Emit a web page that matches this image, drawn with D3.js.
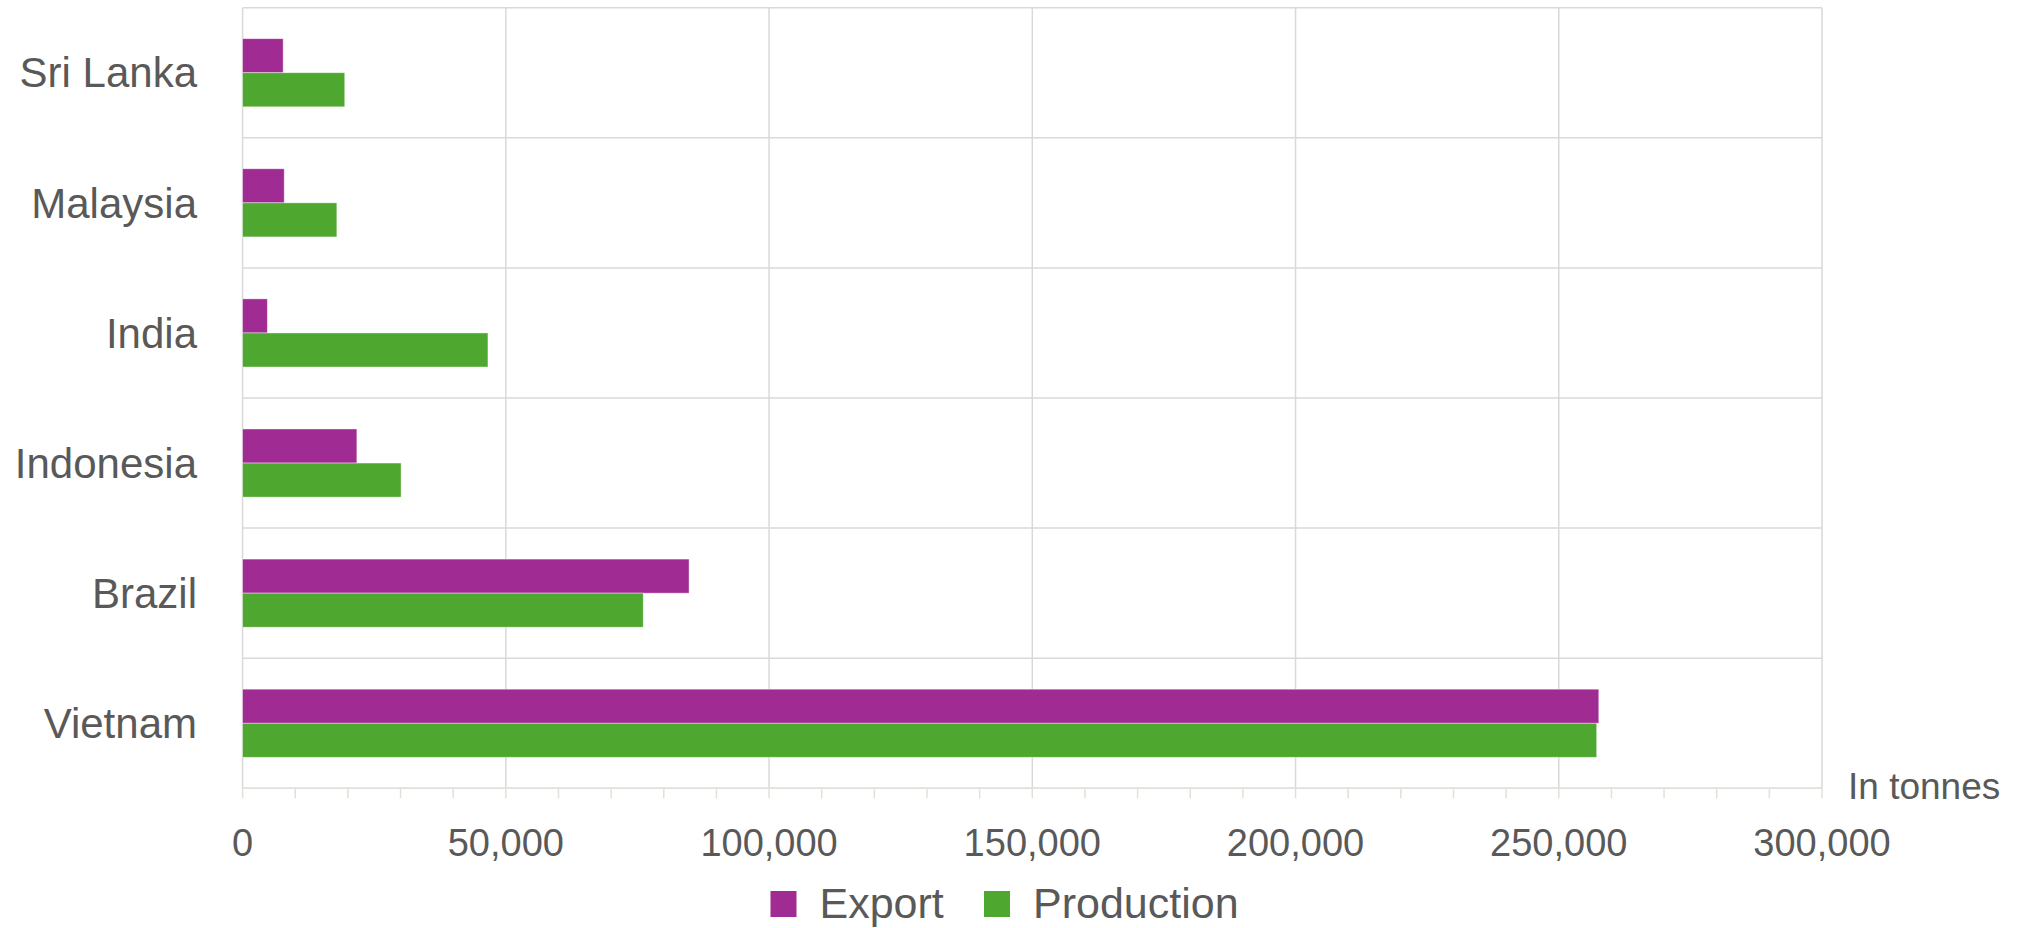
<!DOCTYPE html>
<html>
<head>
<meta charset="utf-8">
<script src="https://cdn.jsdelivr.net/npm/d3@7"></script>
<style>
  html, body { margin: 0; padding: 0; background: #fff; }
  svg { display: block; font-family: "Liberation Sans", Arial, sans-serif; }
</style>
</head>
<body>
<div id="chart"></div>
<script>
// data (tonnes)
const categories = ["Vietnam", "Brazil", "Indonesia", "India", "Malaysia", "Sri Lanka"];
const series = ["Export", "Production"];
const exportValues = [257600, 84800, 21700, 4700, 7900, 7700];
const productionValues = [257200, 76100, 30100, 46600, 17900, 19400];
const xTicks = [0, 50000, 100000, 150000, 200000, 250000, 300000];
const unitLabel = "In tonnes";

const colours = { Export: "#A02B93", Production: "#4EA72E" };
const textColour = "#595959";
const gridColour = "#d9d9d9";

function chart() {
  const width = 2023, height = 928;
  const left = 242.6, right = 1822, top = 7.7, bottom = 788.3;

  const rows = categories.map((c, i) => ({
    category: c,
    Export: exportValues[i],
    Production: productionValues[i]
  }));

  const svg = d3.select("#chart").append("svg")
    .attr("width", width)
    .attr("height", height);

  const x = d3.scaleLinear().domain([0, 300000]).range([left, right]);
  const y = d3.scaleBand().domain(categories).range([bottom, top]).padding(0);
  const y1 = d3.scaleBand().domain(series).range([0, y.bandwidth()])
    .paddingInner(0).paddingOuter(0.91);

  // horizontal grid lines at the band edges
  const edges = categories.map(c => y(c)).concat([bottom]);
  svg.append("g").selectAll("line")
    .data(edges)
    .enter().append("line")
    .attr("x1", left).attr("x2", right)
    .attr("y1", d => d).attr("y2", d => d)
    .attr("stroke", gridColour)
    .attr("stroke-width", 1.5);

  // vertical grid lines at the major ticks
  svg.append("g").selectAll("line")
    .data(xTicks)
    .enter().append("line")
    .attr("x1", d => x(d)).attr("x2", d => x(d))
    .attr("y1", top).attr("y2", bottom)
    .attr("stroke", gridColour)
    .attr("stroke-width", 1.5);

  // small tick marks under the axis, every 10,000
  svg.append("g").selectAll("line")
    .data(d3.range(0, 300001, 10000))
    .enter().append("line")
    .attr("x1", d => x(d)).attr("x2", d => x(d))
    .attr("y1", bottom).attr("y2", bottom + 10)
    .attr("stroke", "#e3e0db")
    .attr("stroke-width", 1.5);

  svg.append("line")
    .attr("x1", left).attr("x2", right)
    .attr("y1", bottom).attr("y2", bottom)
    .attr("stroke", "#e3e0db")
    .attr("stroke-width", 1.5);

  // bars
  const groups = svg.append("g").selectAll("g")
    .data(rows)
    .enter().append("g")
    .attr("transform", d => `translate(0,${y(d.category)})`);

  groups.selectAll("rect")
    .data(d => series.map(s => ({ key: s, value: d[s] })))
    .enter().append("rect")
    .attr("x", x(0))
    .attr("y", d => y1(d.key))
    .attr("width", d => x(d.value) - x(0))
    .attr("height", y1.bandwidth())
    .attr("fill", d => colours[d.key])
    .attr("stroke", "#ffffff")
    .attr("stroke-opacity", 0.5)
    .attr("stroke-width", 0.8);

  // category labels
  svg.append("g").selectAll("text")
    .data(categories)
    .enter().append("text")
    .attr("x", 197)
    .attr("y", d => y(d) + y.bandwidth() / 2)
    .attr("dy", "0.35em")
    .attr("text-anchor", "end")
    .attr("font-size", 42)
    .attr("fill", textColour)
    .text(d => d);

  // x tick labels
  svg.append("g").selectAll("text")
    .data(xTicks)
    .enter().append("text")
    .attr("x", d => x(d))
    .attr("y", 856)
    .attr("text-anchor", "middle")
    .attr("font-size", 38)
    .attr("fill", textColour)
    .text(d => d3.format(",")(d));

  svg.append("text")
    .attr("x", right + 26)
    .attr("y", 799)
    .attr("font-size", 37)
    .attr("fill", textColour)
    .text(unitLabel);

  // legend
  const legendX = [770.5, 984];
  const legend = svg.append("g").selectAll("g")
    .data(series)
    .enter().append("g")
    .attr("transform", (d, i) => `translate(${legendX[i]},891)`);

  legend.append("rect")
    .attr("width", 26).attr("height", 26)
    .attr("fill", d => colours[d]);

  legend.append("text")
    .attr("x", 49)
    .attr("y", 27)
    .attr("font-size", 43)
    .attr("fill", textColour)
    .text(d => d);
}

window.onload = function () {
  chart();
};
</script>
</body>
</html>
